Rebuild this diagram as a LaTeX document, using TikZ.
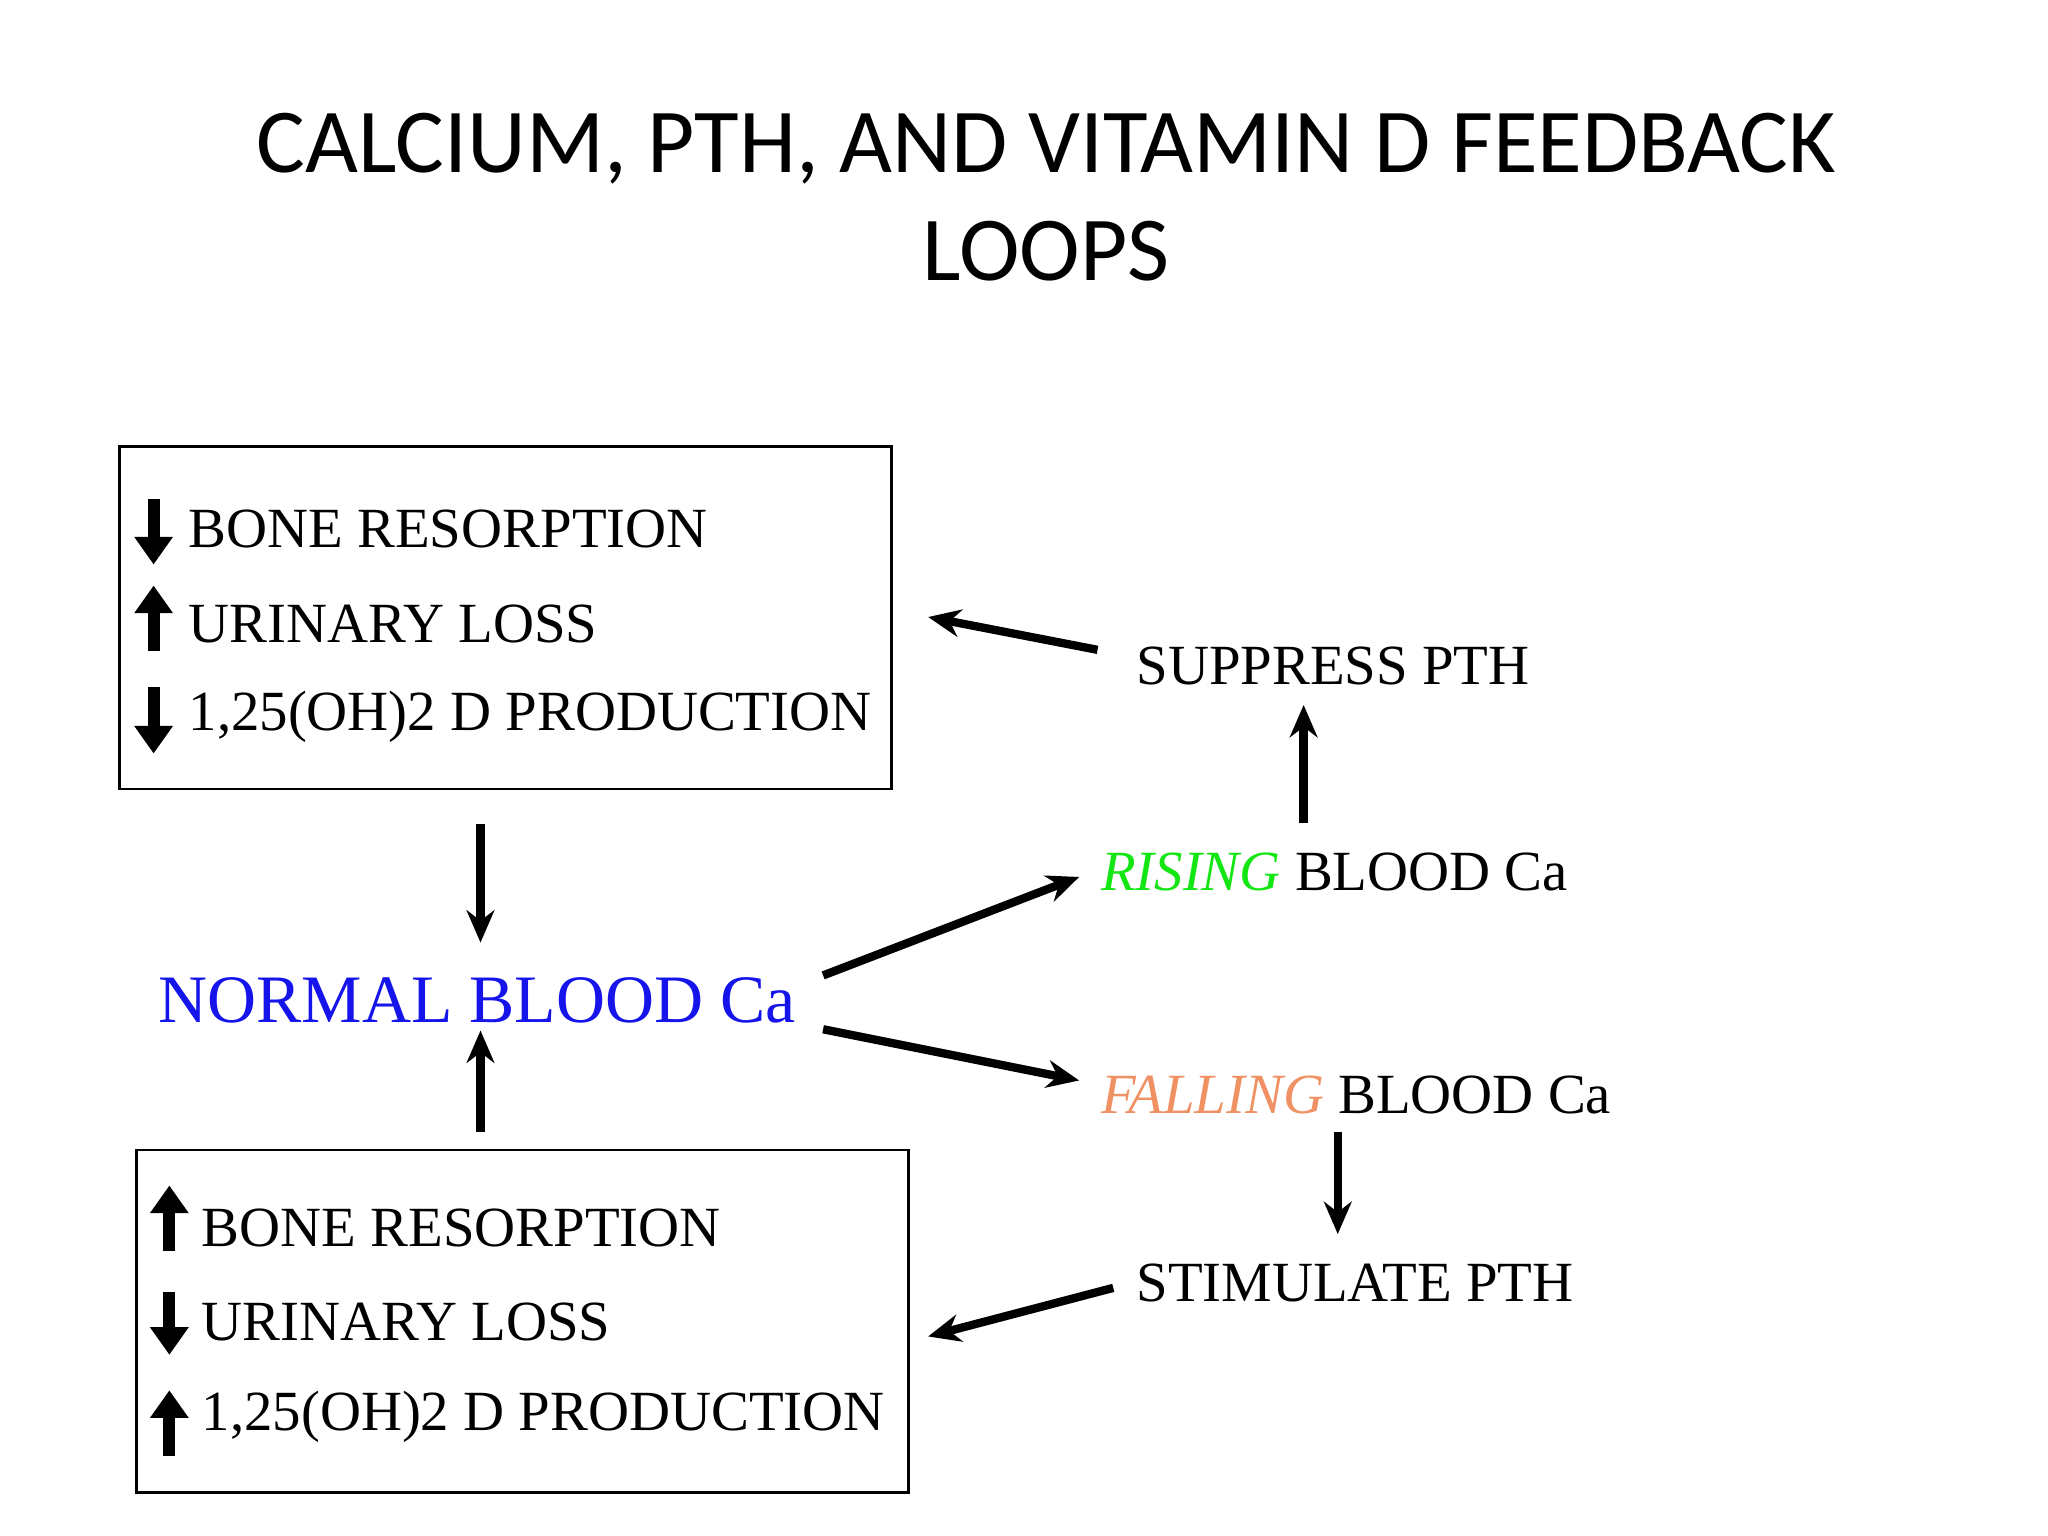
\documentclass[tikz,border=0pt]{standalone}
\usepackage{fontspec}
\setmainfont{Liberation Serif}
\newfontfamily\titlefont{Carlito}
\usetikzlibrary{arrows.meta}
\definecolor{risegreen}{RGB}{20,230,20}
\definecolor{fallorange}{RGB}{240,145,100}
\definecolor{normblue}{RGB}{20,20,235}
\begin{document}
\begin{tikzpicture}[x=0.01cm,y=-0.01cm,
  txt/.style={anchor=west,inner sep=0pt,font=\fontsize{12.3}{15}\selectfont},
  box/.style={draw,line width=0.6pt},
  conn/.style={line width=1.8pt,-{Stealth[length=7pt,width=6pt]}},
  bigup/.style={line width=2.6pt,-{Triangle[length=6pt,width=8pt]}}]
\useasboundingbox (0,0) rectangle (1560,1170);
\node[inner sep=0pt,align=center,font=\titlefont\fontsize{19.8}{23.3}\selectfont] (title) at (797,150) {CALCIUM, PTH, AND VITAMIN D FEEDBACK\\LOOPS};
\draw[box] (91,340) rectangle (679,601);
\draw[box] (104,876) rectangle (692,1137);
\node[txt] (b1) at (143,403) {BONE RESORPTION};
\node[txt] (b2) at (143,475) {URINARY LOSS};
\node[txt] (b3) at (143,546) {1,25(OH)2 D PRODUCTION};
\draw[bigup] (117,380)--(117,430);
\draw[bigup] (117,496)--(117,446);
\draw[bigup] (117,523)--(117,574);
\node[txt] (c1) at (153,935) {BONE RESORPTION};
\node[txt] (c2) at (153,1007) {URINARY LOSS};
\node[txt] (c3) at (153,1079) {1,25(OH)2 D PRODUCTION};
\draw[bigup] (129,953)--(129,903);
\draw[bigup] (129,984)--(129,1032);
\draw[bigup] (129,1109)--(129,1059);
\node[txt,font=\fontsize{14.7}{18}\selectfont,text=normblue] (normal) at (120,762) {NORMAL BLOOD Ca};
\node[txt] (rising) at (838,664) {\textcolor{risegreen}{\itshape RISING} BLOOD Ca};
\node[txt] (falling) at (838,834) {\textcolor{fallorange}{\itshape FALLING} BLOOD Ca};
\node[txt] (supp) at (865,507) {SUPPRESS PTH};
\node[txt] (stim) at (865,977) {STIMULATE PTH};
\coordinate (a1) at (366,628); \coordinate (a2) at (366,718);
\coordinate (a3) at (366,862); \coordinate (a4) at (366,785);
\coordinate (a5) at (627,743); \coordinate (a6) at (822,668);
\coordinate (a7) at (627,784); \coordinate (a8) at (822,823);
\coordinate (a9) at (993,627); \coordinate (a10) at (993,537);
\coordinate (a11) at (1019,862); \coordinate (a12) at (1019,940);
\coordinate (a13) at (836,495); \coordinate (a14) at (707,470);
\coordinate (a15) at (848,981); \coordinate (a16) at (707,1018);
\draw[conn] (a1)--(a2);
\draw[conn] (a3)--(a4);
\draw[conn] (a5)--(a6);
\draw[conn] (a7)--(a8);
\draw[conn] (a9)--(a10);
\draw[conn] (a11)--(a12);
\draw[conn] (a13)--(a14);
\draw[conn] (a15)--(a16);
\end{tikzpicture}
\end{document}
